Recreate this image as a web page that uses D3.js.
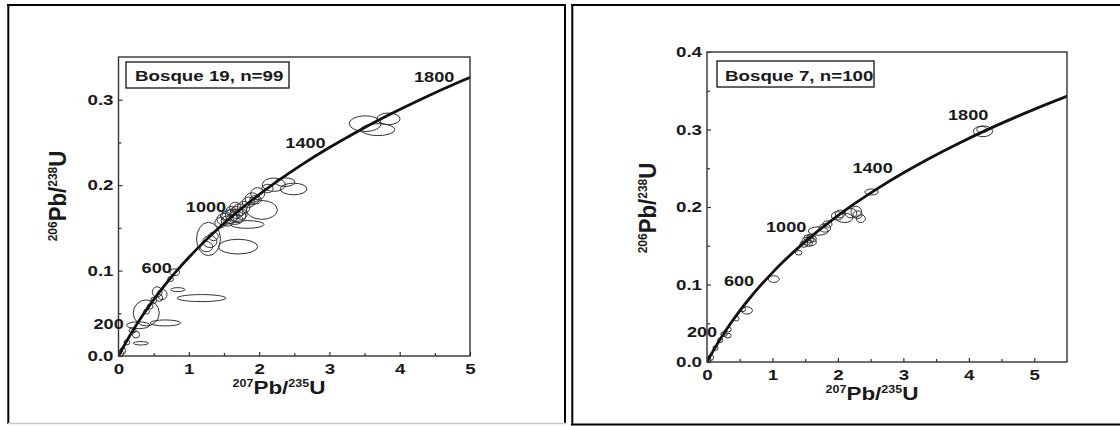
<!DOCTYPE html>
<html>
<head>
<meta charset="utf-8">
<script src="https://cdn.jsdelivr.net/npm/d3@7"></script>
<style>
  html, body { margin: 0; padding: 0; background: #fff; }
  svg { display: block; font-family: "Liberation Sans", Arial, sans-serif; font-weight: bold; }
</style>
</head>
<body>
<div id="chart"></div>
<script>
const width = 1120;
const height = 426;
const stretch = 1.25; // the scanned figure is a bit wider than tall

// concordia [207Pb/235U, 206Pb/238U], 0-2000 Ma in 100 Ma steps
const concordia = [
  [0, 0], [0.1035, 0.01563], [0.2177, 0.03151], [0.3437, 0.04764], [0.4828, 0.06402],
  [0.6363, 0.08065], [0.8056, 0.09754], [0.9925, 0.11470], [1.1987, 0.13213], [1.4263, 0.14982],
  [1.6774, 0.16780], [1.9545, 0.18604], [2.2603, 0.20459], [2.5977, 0.22342], [2.9701, 0.24255],
  [3.3810, 0.26199], [3.8344, 0.28173], [4.3348, 0.30177], [4.8869, 0.32212], [5.4962, 0.34278],
  [6.1685, 0.36376]
];

const ageLabels = ["200", "600", "1000", "1400", "1800"];
const ageLabelPos19 = [[-0.14, 0.0375], [0.543, 0.103], [1.245, 0.174], [2.66, 0.249], [4.49, 0.327]];
const ageLabelPos7 = [[-0.076, 0.0383], [0.49, 0.105], [1.21, 0.1746], [2.53, 0.250], [3.99, 0.319]];

const xTicks19 = [0, 1, 2, 3, 4, 5];
const xMinor19 = [0.5, 1.5, 2.5, 3.5, 4.5];
const yTicks19 = [0, 0.1, 0.2, 0.3];
const yMinor19 = [0.05, 0.15, 0.25];

const xTicks7 = [0, 1, 2, 3, 4, 5];
const xMinor7 = [0.5, 1.5, 2.5, 3.5, 4.5];
const yTicks7 = [0, 0.1, 0.2, 0.3, 0.4];
const yMinor7 = [0.05, 0.15, 0.25, 0.35];

// error ellipses [cx, cy, rx, ry] in ratio units
const ellipses19 = [
  [0.03, 0.003, 0.04, 0.004], [0.06, 0.006, 0.04, 0.004], [0.12, 0.016, 0.04, 0.003],
  [0.20, 0.030, 0.05, 0.003], [0.25, 0.025, 0.05, 0.004], [0.28, 0.036, 0.166, 0.004],
  [0.318, 0.0149, 0.107, 0.002], [0.395, 0.0504, 0.185, 0.0152], [0.40, 0.052, 0.04, 0.003],
  [0.45, 0.058, 0.04, 0.003], [0.50, 0.065, 0.04, 0.004], [0.55, 0.075, 0.07, 0.006],
  [0.58, 0.068, 0.05, 0.004], [0.62, 0.072, 0.07, 0.006], [0.666, 0.0387, 0.218, 0.0035],
  [0.74, 0.090, 0.04, 0.003], [0.80, 0.098, 0.07, 0.004], [0.844, 0.0777, 0.102, 0.0023],
  [1.18, 0.0678, 0.346, 0.0041], [1.25, 0.128, 0.09, 0.006], [1.28, 0.137, 0.17, 0.0195],
  [1.30, 0.134, 0.10, 0.007], [1.35, 0.140, 0.07, 0.005], [1.70, 0.128, 0.28, 0.0086],
  [1.83, 0.154, 0.24, 0.0045], [1.45, 0.156, 0.08, 0.006], [1.50, 0.160, 0.10, 0.007],
  [1.55, 0.158, 0.09, 0.006], [1.58, 0.163, 0.11, 0.008], [1.62, 0.165, 0.10, 0.007],
  [1.65, 0.160, 0.12, 0.006], [1.68, 0.168, 0.09, 0.007], [1.70, 0.164, 0.11, 0.008],
  [1.72, 0.171, 0.10, 0.007], [1.75, 0.166, 0.08, 0.006], [1.78, 0.174, 0.09, 0.007],
  [1.60, 0.170, 0.07, 0.005], [1.66, 0.174, 0.08, 0.006], [1.52, 0.164, 0.07, 0.005],
  [1.85, 0.180, 0.09, 0.006], [1.90, 0.184, 0.10, 0.007], [1.98, 0.190, 0.10, 0.007],
  [1.95, 0.183, 0.08, 0.005], [2.04, 0.171, 0.22, 0.011], [2.12, 0.196, 0.08, 0.005],
  [2.21, 0.2005, 0.165, 0.0078], [2.37, 0.2035, 0.14, 0.005], [2.49, 0.1955, 0.19, 0.0068],
  [3.51, 0.272, 0.228, 0.0092], [3.69, 0.265, 0.241, 0.007], [3.84, 0.2776, 0.165, 0.0068]
];

const ellipses7 = [
  [0.03, 0.003, 0.03, 0.003], [0.06, 0.006, 0.04, 0.004], [0.13, 0.018, 0.04, 0.003],
  [0.20, 0.028, 0.04, 0.003], [0.26, 0.036, 0.05, 0.003], [0.32, 0.034, 0.05, 0.003],
  [0.33, 0.042, 0.04, 0.003], [0.45, 0.056, 0.04, 0.003], [0.55, 0.068, 0.04, 0.003],
  [0.61, 0.0665, 0.084, 0.0047], [1.02, 0.107, 0.084, 0.0043], [1.40, 0.141, 0.05, 0.003],
  [1.48, 0.152, 0.06, 0.004], [1.52, 0.156, 0.07, 0.005], [1.55, 0.153, 0.06, 0.004],
  [1.57, 0.158, 0.06, 0.004], [1.60, 0.155, 0.07, 0.005], [1.53, 0.160, 0.05, 0.004],
  [1.62, 0.159, 0.05, 0.004], [1.58, 0.162, 0.05, 0.003], [1.70, 0.169, 0.153, 0.0054],
  [1.80, 0.173, 0.09, 0.0054], [1.84, 0.178, 0.07, 0.004], [1.99, 0.1886, 0.089, 0.0054],
  [2.03, 0.191, 0.07, 0.005], [2.10, 0.186, 0.13, 0.006], [2.20, 0.192, 0.09, 0.006],
  [2.28, 0.194, 0.08, 0.007], [2.30, 0.190, 0.07, 0.005], [2.35, 0.185, 0.07, 0.005],
  [2.514, 0.2194, 0.102, 0.0039], [4.217, 0.2977, 0.147, 0.0069], [4.20, 0.300, 0.08, 0.004]
];

const panels = [
  {
    id: "b19", legend: "Bosque 19, n=99",
    left: 118.5, right: 470, top: 57, bottom: 356,
    xDomain: [0, 5], yDomain: [0, 0.35],
    xTicks: xTicks19, xMinor: xMinor19, yTicks: yTicks19, yMinor: yMinor19,
    ellipses: ellipses19, agePos: ageLabelPos19,
    legendBox: [126, 62, 163, 26], legendText: [135, 81],
    xTitle: [279, 394], yTitle: [66, 196]
  },
  {
    id: "b7", legend: "Bosque 7, n=100",
    left: 707, right: 1067, top: 52, bottom: 362,
    xDomain: [0, 5.5], yDomain: [0, 0.4],
    xTicks: xTicks7, xMinor: xMinor7, yTicks: yTicks7, yMinor: yMinor7,
    ellipses: ellipses7, agePos: ageLabelPos7,
    legendBox: [717, 61, 157, 26], legendText: [725, 81],
    xTitle: [872, 400], yTitle: [656, 208]
  }
];

const svg = d3.select("#chart").append("svg")
  .attr("width", width)
  .attr("height", height);

svg.append("rect").attr("width", width).attr("height", height).attr("fill", "#fff");

// page frames around the two figures
function line(x1, y1, x2, y2, color, w) {
  svg.append("line")
    .attr("x1", x1).attr("y1", y1).attr("x2", x2).attr("y2", y2)
    .attr("stroke", color).attr("stroke-width", w);
}
line(7, 5, 566, 5, "#000", 2);
line(8.3, 4, 8.3, 424, "#000", 2);
line(565, 4, 565, 424, "#000", 2);
line(8, 423.5, 566, 423.5, "#c8c8c8", 1.5);
line(571, 5, 1120, 5, "#000", 2);
line(572.3, 4, 572.3, 425, "#000", 2);
line(571, 424.5, 1120, 424.5, "#000", 2);

function label(g, x, y, str, size, anchor) {
  return g.append("text")
    .attr("transform", `translate(${x},${y}) scale(${stretch},1)`)
    .attr("text-anchor", anchor)
    .attr("font-size", size)
    .attr("fill", "#1a1a1a")
    .text(str);
}

function ratioTitle(t, top1, top2, sup) {
  // e.g. 207Pb/235U with superscript mass numbers
  t.append("tspan").attr("font-size", sup).attr("dy", -7).text(top1);
  t.append("tspan").attr("dy", 7).text("Pb/");
  t.append("tspan").attr("font-size", sup).attr("dy", -7).text(top2);
  t.append("tspan").attr("dy", 7).text("U");
}

function drawPanel(p) {
  const x = d3.scaleLinear().domain(p.xDomain).range([p.left, p.right]);
  const y = d3.scaleLinear().domain(p.yDomain).range([p.bottom, p.top]);
  const g = svg.append("g");

  const clipId = "clip-" + p.id;
  svg.append("clipPath").attr("id", clipId).append("rect")
    .attr("x", p.left).attr("y", p.top)
    .attr("width", p.right - p.left).attr("height", p.bottom - p.top);

  g.append("g")
    .attr("clip-path", `url(#${clipId})`)
    .selectAll("ellipse")
    .data(p.ellipses)
    .join("ellipse")
    .attr("cx", d => x(d[0]))
    .attr("cy", d => y(d[1]))
    .attr("rx", d => x(d[2]) - x(0))
    .attr("ry", d => y(0) - y(d[3]))
    .attr("fill", "none")
    .attr("stroke", "#333")
    .attr("stroke-width", 1);

  g.append("path")
    .datum(concordia)
    .attr("clip-path", `url(#${clipId})`)
    .attr("d", d3.line().x(d => x(d[0])).y(d => y(d[1])).curve(d3.curveCatmullRom))
    .attr("fill", "none")
    .attr("stroke", "#111")
    .attr("stroke-width", 2.8);

  // axes, ticks pointing inward
  const xAxis = g.append("g").attr("transform", `translate(0,${p.bottom})`)
    .call(d3.axisBottom(x).tickValues(p.xTicks).tickSize(-4).tickPadding(7).tickFormat(d3.format("d")));
  g.append("g").attr("transform", `translate(0,${p.bottom})`)
    .call(d3.axisBottom(x).tickValues(p.xMinor).tickSize(-3).tickFormat(""));
  const yAxis = g.append("g").attr("transform", `translate(${p.left},0)`)
    .call(d3.axisLeft(y).tickValues(p.yTicks).tickSize(-4).tickPadding(4).tickFormat(d3.format(".1f")));
  g.append("g").attr("transform", `translate(${p.left},0)`)
    .call(d3.axisLeft(y).tickValues(p.yMinor).tickSize(-3).tickFormat(""));

  g.selectAll(".domain").remove();
  g.selectAll(".tick line").attr("stroke", "#333").attr("stroke-width", 1.2);
  [xAxis, yAxis].forEach(a => {
    a.attr("font-size", 15).attr("font-family", null);
    a.selectAll("text").attr("fill", "#1a1a1a").attr("transform", `scale(${stretch},1)`);
  });

  g.append("rect")
    .attr("x", p.left).attr("y", p.top)
    .attr("width", p.right - p.left).attr("height", p.bottom - p.top)
    .attr("fill", "none").attr("stroke", "#333").attr("stroke-width", 1.4);

  // age labels on the concordia
  ageLabels.forEach((a, i) => {
    const pos = p.agePos[i];
    label(g, x(pos[0]), y(pos[1]) + 5, a, 14.5, "middle");
  });

  // sample legend
  const b = p.legendBox;
  g.append("rect").attr("x", b[0]).attr("y", b[1]).attr("width", b[2]).attr("height", b[3])
    .attr("fill", "#fff").attr("stroke", "#222").attr("stroke-width", 1.4);
  label(g, p.legendText[0], p.legendText[1], p.legend, 15, "start");

  // axis titles
  const xt = label(g, p.xTitle[0], p.xTitle[1], null, 18, "middle");
  ratioTitle(xt, "207", "235", 10);
  const yt = g.append("text")
    .attr("transform", `translate(${p.yTitle[0]},${p.yTitle[1]}) rotate(-90) scale(1.2,1.25)`)
    .attr("text-anchor", "middle")
    .attr("font-size", 18.5)
    .attr("fill", "#1a1a1a");
  ratioTitle(yt, "206", "238", 10);
}

panels.forEach(drawPanel);
</script>
</body>
</html>
